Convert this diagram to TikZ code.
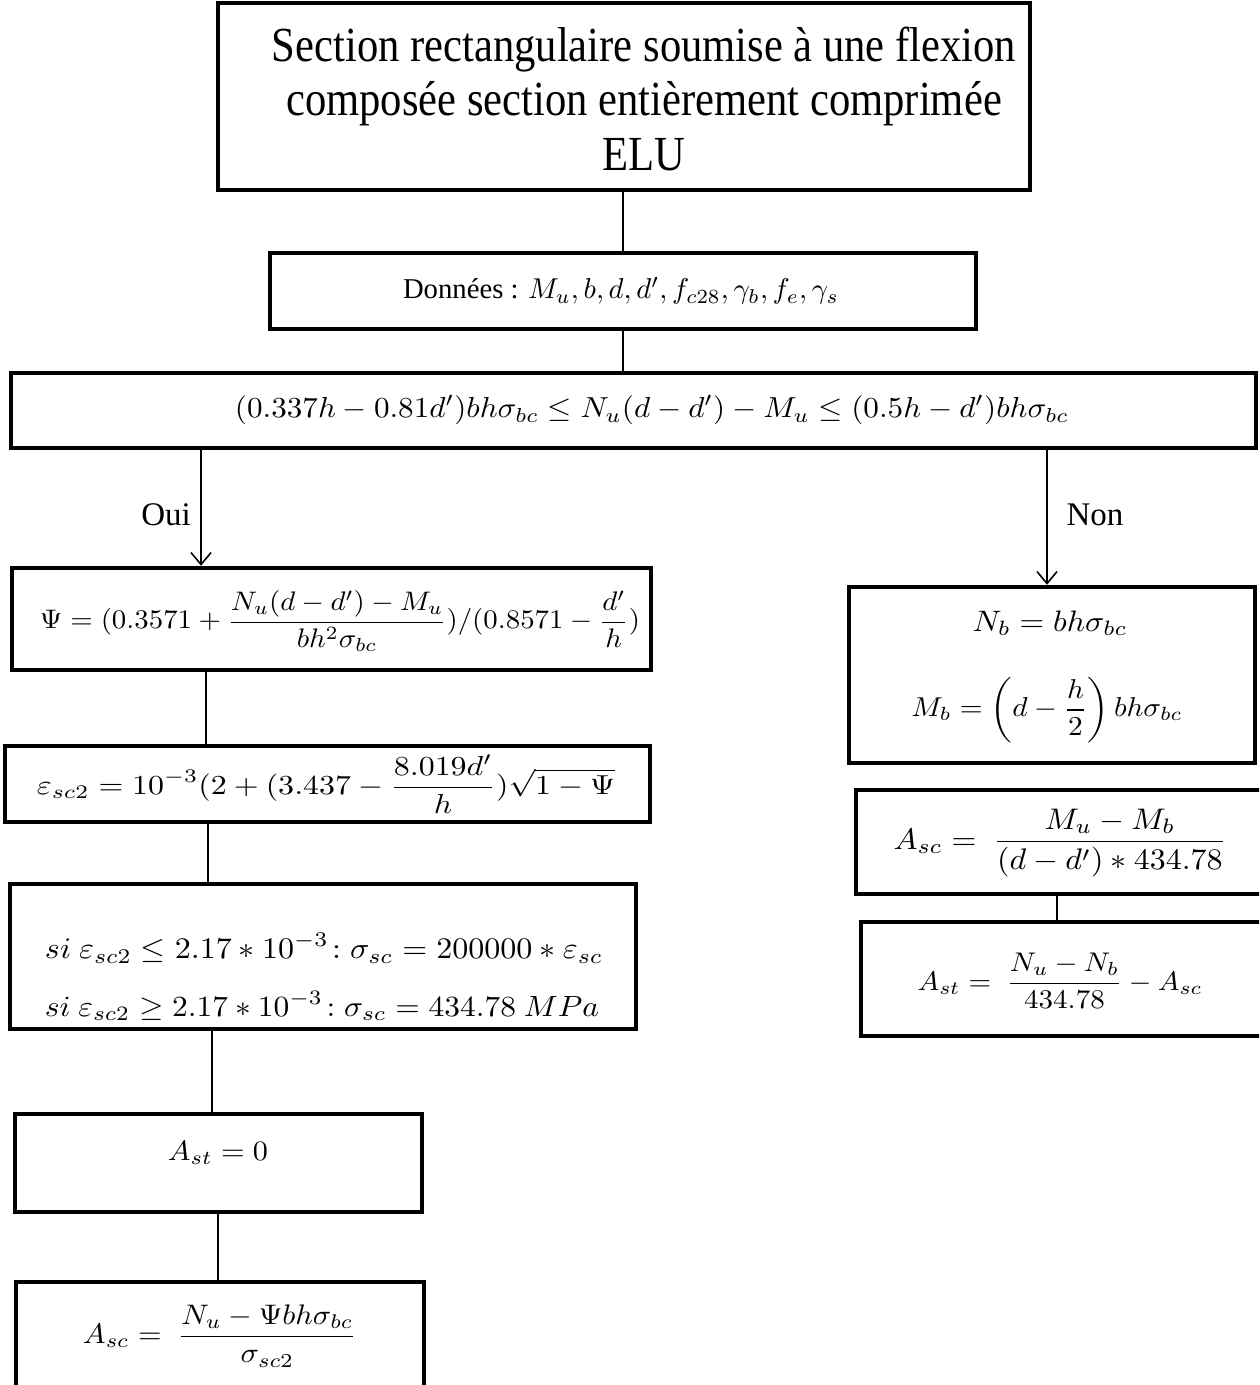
\documentclass[tikz,border=0pt]{standalone}
\usepackage{amsmath}
\usepackage{graphicx}
\usepackage{fontspec}
\setmainfont{Liberation Serif}
\usetikzlibrary{arrows.meta,fit}
\newcommand\fw[2]{\scalebox{1}[0.93]{\resizebox{#1}{!}{$\displaystyle #2$}}}
\newcommand\fweps[2]{\scalebox{1}[0.86]{\resizebox{#1}{!}{$\displaystyle #2$}}}
\begin{document}
\begin{tikzpicture}[x=0.5pt,y=-0.5pt,
  box/.style={draw, line width=2.2pt, inner sep=0pt},
  conn/.style={line width=0.8pt},
  arr/.style={conn, -{Straight Barb[length=6pt,width=10pt]}},
  tx/.style={inner sep=0pt, align=center},
  lbl/.style={inner sep=0pt, font=\fontsize{16.5}{19}\selectfont}]
\useasboundingbox (0,0) rectangle (1259,1385);
\clip (0,0) rectangle (1259,1385);
\fill[white] (0,0) rectangle (1259,1385);

% boxes
\node[box, fit={(218,3)(1030,190)}] (top) {};
\node[box, fit={(270,253)(976,329)}] (don) {};
\node[box, fit={(11,373)(1256,448)}] (cond) {};
\node[box, fit={(12,568)(651,670)}] (psi) {};
\node[box, fit={(5,746)(650,822)}] (eps) {};
\node[box, fit={(10,884)(636,1029)}] (si) {};
\node[box, fit={(15,1114)(422,1212)}] (ast0) {};
\node[box, fit={(16,1282)(424,1420)}] (ascL) {};
\node[box, fit={(849,587)(1255,763)}] (nb) {};
\node[box, fit={(856,790)(1300,894)}] (ascR) {};
\node[box, fit={(861,922)(1300,1036)}] (astR) {};

% texts
\node[tx] (topT) at (644,105)
  {\scalebox{1}[1.15]{\fontsize{21.3}{23.9}\selectfont\begin{tabular}{@{}c@{}}Section rectangulaire soumise à une flexion\\composée section entièrement comprimée\\ELU\end{tabular}}};
\node[tx] (donT) at (621,291)
  {\resizebox{218pt}{!}{Données : $M_u, b, d, d', f_{c28}, \gamma_b, f_e, \gamma_s$}};
\node[tx] (condT) at (652,410)
  {\fw{417pt}{(0.337h-0.81d')bh\sigma_{bc} \le N_u(d-d')-M_u \le (0.5h-d')bh\sigma_{bc}}};
\node[tx] (psiT) at (340,621)
  {\fw{300pt}{\Psi = (0.3571+\frac{N_u(d-d')-M_u}{bh^2\sigma_{bc}})/(0.8571-\frac{d'}{h})}};
\node[tx] (epsT) at (326,784)
  {\fweps{289pt}{\varepsilon_{sc2} = 10^{-3}(2+(3.437-\frac{8.019d'}{h})\sqrt{1-\Psi}}};
\node[tx] (si1T) at (324,948)
  {\fw{279pt}{si\ \varepsilon_{sc2} \le 2.17*10^{-3}\!:\sigma_{sc} = 200000*\varepsilon_{sc}}};
\node[tx] (si2T) at (322,1006)
  {\fw{277pt}{si\ \varepsilon_{sc2} \ge 2.17*10^{-3}\!:\sigma_{sc} = 434.78\ MPa}};
\node[tx] (ast0T) at (218,1153) {\fw{50pt}{A_{st} = 0}};
\node[tx] (ascLT) at (220,1336)
  {\fw{137pt}{A_{sc} =\ \frac{N_u-\Psi bh\sigma_{bc}}{\sigma_{sc2}}}};
\node[tx] (nbT) at (1050,623) {\fw{77.5pt}{N_b = bh\sigma_{bc}}};
\node[tx] (mbT) at (1047,710) {\fw{135.5pt}{M_b = \left(d-\frac{h}{2}\right)bh\sigma_{bc}}};
\node[tx] (ascRT) at (1060,843)
  {\fw{166.5pt}{A_{sc} =\ \frac{M_u-M_b}{(d-d')*434.78}}};
\node[tx] (astRT) at (1060,981)
  {\fw{142.5pt}{A_{st} =\ \frac{N_u-N_b}{434.78}-A_{sc}}};
\node[lbl] (oui) at (166,515) {Oui};
\node[lbl] (non) at (1095,515) {Non};

% connectors
\coordinate (x623) at (623,0);
\coordinate (x201) at (201,0);
\coordinate (x1047) at (1047,0);
\coordinate (x206) at (206,0);
\coordinate (x208) at (208,0);
\coordinate (x212) at (212,0);
\coordinate (x218) at (218,0);
\coordinate (x1057) at (1057,0);
\draw[conn] (top.south -| x623) -- (don.north -| x623);
\draw[conn] (don.south -| x623) -- (cond.north -| x623);
\draw[arr] (cond.south -| x201) -- (psi.north -| x201);
\draw[arr] (cond.south -| x1047) -- (nb.north -| x1047);
\draw[conn] (psi.south -| x206) -- (eps.north -| x206);
\draw[conn] (eps.south -| x208) -- (si.north -| x208);
\draw[conn] (si.south -| x212) -- (ast0.north -| x212);
\draw[conn] (ast0.south -| x218) -- (ascL.north -| x218);
\draw[conn] (ascR.south -| x1057) -- (astR.north -| x1057);
\end{tikzpicture}
\end{document}
